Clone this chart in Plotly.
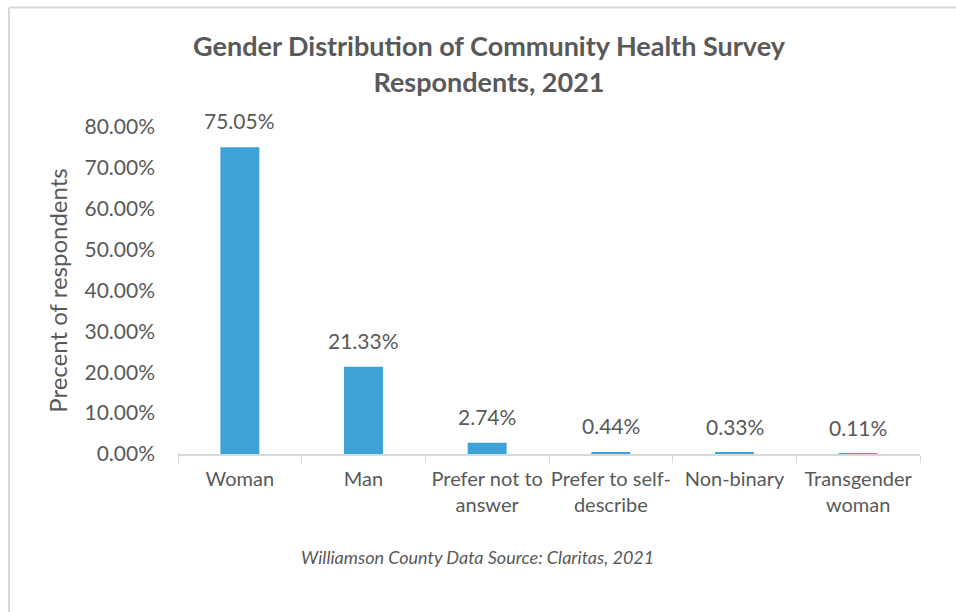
import plotly.graph_objects as go

categories = ["Woman", "Man", "Prefer not to<br>answer", "Prefer to self-<br>describe", "Non-binary", "Transgender<br>woman"]
values = [75.05, 21.33, 2.74, 0.44, 0.33, 0.11]
value_labels = ["75.05%", "21.33%", "2.74%", "0.44%", "0.33%", "0.11%"]
tick_vals = [0, 10, 20, 30, 40, 50, 60, 70, 80]
tick_text = ["0.00%", "10.00%", "20.00%", "30.00%", "40.00%", "50.00%", "60.00%", "70.00%", "80.00%"]

FONT = "Lato"
GRAY = "#595959"

fig = go.Figure()
fig.add_trace(go.Bar(x=categories, y=values, marker=dict(color="#3FA2D4", line=dict(width=0)),
                     hoverinfo="skip"))

for c, v, t in zip(categories, values, value_labels):
    fig.add_annotation(x=c, y=v, text=t, showarrow=False, yanchor="bottom", yshift=12,
                       font=dict(family=FONT, size=21, color=GRAY))

fig.add_annotation(xref="paper", yref="paper", x=0.404, y=-0.315, text="<i>Williamson County Data Source: Claritas, 2021</i>",
                   showarrow=False, xanchor="center", yanchor="middle",
                   font=dict(family=FONT, size=18, color=GRAY))

# chart border (top and left visible)
fig.add_shape(type="line", xref="paper", yref="paper", x0=-0.2278, x1=1.2, y0=1.3654, y1=1.3654,
              line=dict(color="#D9D9D9", width=2))
fig.add_shape(type="line", xref="paper", yref="paper", x0=-0.2278, x1=-0.2278, y0=1.3654, y1=-0.6,
              line=dict(color="#D9D9D9", width=2))

fig.update_layout(
    width=956, height=612,
    margin=dict(l=178, r=36, t=127, b=158, autoexpand=False),
    paper_bgcolor="white", plot_bgcolor="white",
    bargap=0.685,
    showlegend=False,
    title=dict(text="<b>Gender Distribution of Community Health Survey<br>Respondents, 2021</b>",
               x=0.5115, xanchor="center", y=0.9077, yanchor="middle",
               font=dict(family=FONT, size=27, color=GRAY)),
    font=dict(family=FONT, color=GRAY),
)
fig.update_xaxes(showline=True, linecolor="#D9D9D9", linewidth=1.5, ticks="outside", tickson="boundaries",
                 ticklen=7, tickcolor="#D9D9D9", tickfont=dict(family=FONT, size=20, color=GRAY),
                 tickangle=0, automargin=False,
                 ticklabelstandoff=6, showgrid=False, fixedrange=True)
fig.update_yaxes(range=[0, 80], tickvals=tick_vals, ticktext=tick_text, showline=False, showgrid=False,
                 zeroline=False, tickfont=dict(family=FONT, size=21, color=GRAY), ticklabelstandoff=22,
                 automargin=False, fixedrange=True,
                 title=dict(text="Precent of respondents", font=dict(family=FONT, size=24, color=GRAY), standoff=10))

fig.write_html("out.html", config={"displayModeBar": False},
               post_script="document.body.style.margin='0';document.body.style.overflow='hidden';")
